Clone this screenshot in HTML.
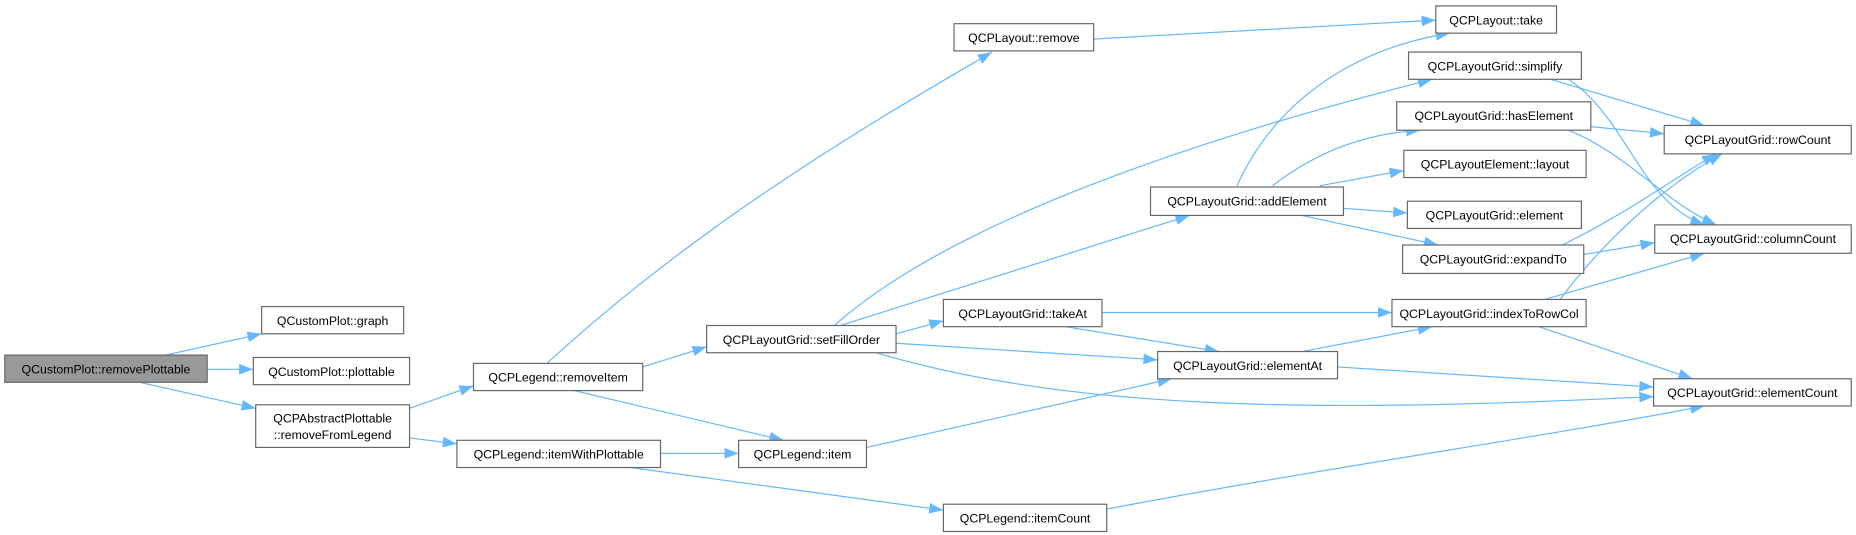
<!DOCTYPE html>
<html><head><meta charset="utf-8"><style>
html,body{margin:0;padding:0;background:#fff;}
svg{display:block}
text{font-family:"Liberation Sans",Arial,sans-serif;font-size:10.4px;fill:#000;text-anchor:middle;}
.n{fill:#fff;stroke:#666;stroke-width:1}
.e{fill:none;stroke:#63b8ff;stroke-width:1}
</style></head><body>
<svg width="1856" height="535" viewBox="0 0 1568 452" xmlns="http://www.w3.org/2000/svg">
<defs><marker id="a" viewBox="0 0 12 10" refX="12" refY="5" markerWidth="12" markerHeight="10" markerUnits="userSpaceOnUse" orient="auto"><path d="M0,0.5 L12,5 L0,9.5 z" fill="#63b8ff"/></marker></defs>
<g class="e" marker-end="url(#a)">
<path d="M140,300 L221,282"/>
<path d="M175,312 L214,312"/>
<path d="M118,323 L216,345"/>
<path d="M346,345 L400,326"/>
<path d="M346,370 L386,375"/>
<path d="M462,307 C600,180 760,90 838,44"/>
<path d="M543,310 L597,293"/>
<path d="M485,330 L662,372"/>
<path d="M558,383 L624,383"/>
<path d="M533,395 L797,431"/>
<path d="M732,378 L990,320"/>
<path d="M705,275 C800,190 1000,120 1210,67"/>
<path d="M710,275 L1005,182"/>
<path d="M757,282 L797,271"/>
<path d="M757,290 L978,304"/>
<path d="M740,298 C900,345 1100,350 1397,335"/>
<path d="M924,33 L1213,17"/>
<path d="M1045,157 C1080,80 1150,40 1225,28"/>
<path d="M1075,157 C1110,130 1150,113 1200,110"/>
<path d="M1115,157 L1186,144"/>
<path d="M1135,176 L1189,180"/>
<path d="M1100,182 L1215,207"/>
<path d="M931,264 L1176,264"/>
<path d="M900,276 L1030,297"/>
<path d="M1100,297 L1210,276"/>
<path d="M1130,310 L1397,327"/>
<path d="M1305,253 L1440,214"/>
<path d="M1318,253 C1350,210 1400,160 1455,130"/>
<path d="M1300,276 L1430,320"/>
<path d="M1310,67 L1440,106"/>
<path d="M1325,67 C1375,100 1385,170 1440,190"/>
<path d="M1344,107 L1406,113"/>
<path d="M1325,110 C1375,130 1405,170 1450,190"/>
<path d="M1320,207 C1375,180 1415,150 1450,130"/>
<path d="M1338,215 L1398,205"/>
<path d="M935,430 C1150,390 1300,370 1440,343"/>
</g>
<rect x="4" y="300" width="171" height="23" fill="#999" stroke="#666"/><text x="89.5" y="315.5">QCustomPlot::removePlottable</text>
<rect class="n" x="221" y="259" width="120" height="23"/><text x="281" y="274.5">QCustomPlot::graph</text>
<rect class="n" x="214" y="302" width="132" height="23"/><text x="280" y="317.5">QCustomPlot::plottable</text>
<rect class="n" x="216" y="342" width="130" height="36"/><text x="281" y="357">QCPAbstractPlottable</text><text x="281" y="371">::removeFromLegend</text>
<rect class="n" x="400" y="307" width="143" height="23"/><text x="471.5" y="322.5">QCPLegend::removeItem</text>
<rect class="n" x="386" y="372" width="172" height="23"/><text x="472" y="387.5">QCPLegend::itemWithPlottable</text>
<rect class="n" x="597" y="275" width="160" height="23"/><text x="677" y="290.5">QCPLayoutGrid::setFillOrder</text>
<rect class="n" x="624" y="372" width="108" height="23"/><text x="678" y="387.5">QCPLegend::item</text>
<rect class="n" x="806" y="20" width="118" height="23"/><text x="865" y="35.5">QCPLayout::remove</text>
<rect class="n" x="1213" y="5" width="102" height="23"/><text x="1264" y="20.5">QCPLayout::take</text>
<rect class="n" x="1190" y="44" width="146" height="23"/><text x="1263" y="59.5">QCPLayoutGrid::simplify</text>
<rect class="n" x="1180" y="86" width="164" height="24"/><text x="1262" y="101.5">QCPLayoutGrid::hasElement</text>
<rect class="n" x="1186" y="127" width="154" height="23"/><text x="1263" y="142.5">QCPLayoutElement::layout</text>
<rect class="n" x="972" y="158" width="163" height="24"/><text x="1053.5" y="173.5">QCPLayoutGrid::addElement</text>
<rect class="n" x="1189" y="170" width="147" height="23"/><text x="1262.5" y="185.5">QCPLayoutGrid::element</text>
<rect class="n" x="1185" y="207" width="153" height="24"/><text x="1261.5" y="222.5">QCPLayoutGrid::expandTo</text>
<rect class="n" x="1406" y="106" width="158" height="24"/><text x="1485" y="121.5">QCPLayoutGrid::rowCount</text>
<rect class="n" x="1398" y="190" width="166" height="24"/><text x="1481" y="205.5">QCPLayoutGrid::columnCount</text>
<rect class="n" x="797" y="253" width="134" height="23"/><text x="864" y="268.5">QCPLayoutGrid::takeAt</text>
<rect class="n" x="1176" y="253" width="164" height="23"/><text x="1258" y="268.5">QCPLayoutGrid::indexToRowCol</text>
<rect class="n" x="978" y="297" width="152" height="23"/><text x="1054" y="312.5">QCPLayoutGrid::elementAt</text>
<rect class="n" x="1397" y="320" width="167" height="23"/><text x="1480.5" y="335.5">QCPLayoutGrid::elementCount</text>
<rect class="n" x="797" y="426" width="138" height="23"/><text x="866" y="441.5">QCPLegend::itemCount</text>
</svg>
</body></html>
